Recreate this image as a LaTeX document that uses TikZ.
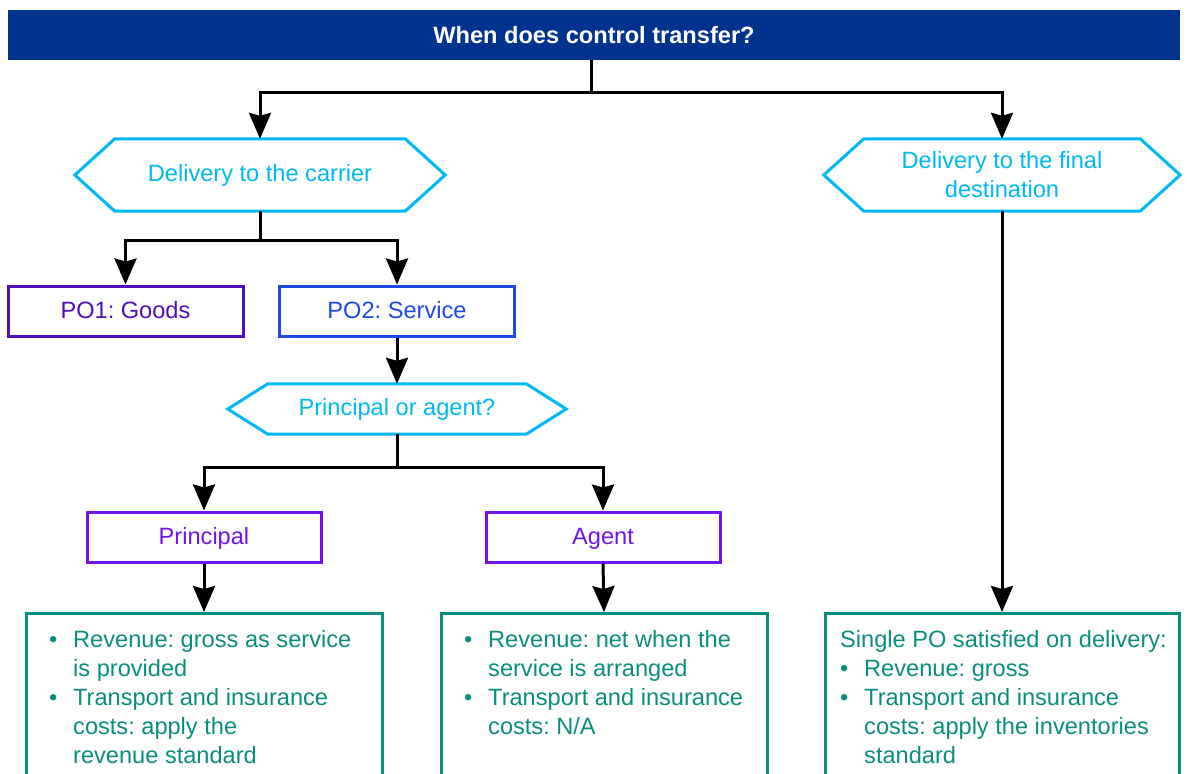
\documentclass[tikz,border=0pt]{standalone}
\usepackage{fontspec}
\setmainfont{Liberation Sans}
\usetikzlibrary{positioning,arrows.meta,calc}
\definecolor{kpmgblue}{HTML}{00338D}
\definecolor{pacific}{HTML}{00B8F5}
\definecolor{darkpurple}{HTML}{510DBC}
\definecolor{cobalt}{HTML}{1E49E2}
\definecolor{kpmgpurple}{HTML}{7213EA}
\definecolor{kpmgteal}{HTML}{098E7E}

% hexagon outline round a named node
\newcommand\hexframe[1]{%
  \draw[pacific, line width=3pt] ([xshift=40pt]#1.north west) -- ([xshift=-40pt]#1.north east)
    -- (#1.east) -- ([xshift=-40pt]#1.south east) -- ([xshift=40pt]#1.south west) -- (#1.west) -- cycle;}

\begin{document}
\frenchspacing
\begin{tikzpicture}[x=1pt, y=-1pt,
  box/.style={draw, line width=3pt, inner sep=0pt, minimum width=235pt, minimum height=50pt, text height=19.6pt, text depth=5pt, align=center, font=\fontsize{23.6}{29}\selectfont},
  hexa/.style={inner sep=0pt, minimum height=72pt, align=center, text=pacific, font=\fontsize{23.6}{29}\selectfont},
  result/.style={draw=kpmgteal, line width=3pt, inner sep=0pt, minimum height=200pt, anchor=north},
  restext/.style={anchor=north west, inner sep=0pt, text=kpmgteal, font=\fontsize{23.6}{29}\selectfont},
  arrow/.style={-{Stealth[length=26pt, width=22pt, inset=3pt]}, line width=3pt},
]
\useasboundingbox (0,0) rectangle (1187,774);
\clip (0,0) rectangle (1187,774);

% Title bar
\node[fill=kpmgblue, text=white, inner sep=0pt, minimum width=1172pt, minimum height=50pt, font=\bfseries\fontsize{23.6}{29}\selectfont] (title) at (594,35) {When does control transfer?};

% Delivery options
\node[hexa, minimum width=370pt] (carrier) at (260,175) {Delivery to the carrier};
\hexframe{carrier}
\node[hexa, minimum width=356pt] (final) at (1002,175) {Delivery to the final\\destination};
\hexframe{final}

% Performance obligations
\node[box, draw=darkpurple, text=darkpurple] (po1) at (125.5,311) {PO1: Goods};
\node[box, draw=cobalt, text=cobalt] (po2) at (397,311) {PO2: Service};

% Principal or agent
\node[hexa, minimum width=338pt, minimum height=50pt] (pora) at (397,409) {Principal or agent?};
\hexframe{pora}
\node[box, draw=kpmgpurple, text=kpmgpurple, minimum width=234pt] (principal) at (204,537) {Principal};
\node[box, draw=kpmgpurple, text=kpmgpurple, minimum width=234pt] (agent) at (603,537) {Agent};

% Outcome boxes
\node[result, minimum width=356pt] (resA) at (204,612) {};
\node[result, minimum width=326pt] (resB) at (604,612) {};
\node[result, minimum width=354pt] (resC) at (1002,612) {};

\node[restext] (resAtxt) at (49,626.7) {\begin{tabular}{@{}p{24pt}@{}l@{}}
  \textbullet & Revenue: gross as service\\ & is provided\\
  \textbullet & Transport and insurance\\ & costs: apply the\\ & revenue standard
\end{tabular}};
\node[restext] (resBtxt) at (464,626.7) {\begin{tabular}{@{}p{24pt}@{}l@{}}
  \textbullet & Revenue: net when the\\ & service is arranged\\
  \textbullet & Transport and insurance\\ & costs: N/A
\end{tabular}};
\node[restext] (resCtxt) at (840,626.7) {\begin{tabular}{@{}p{24pt}@{}l@{}}
  \multicolumn{2}{@{}l@{}}{Single PO satisfied on delivery:}\\
  \textbullet & Revenue: gross\\
  \textbullet & Transport and insurance\\ & costs: apply the inventories\\ & standard
\end{tabular}};

% Arrows
\draw[arrow] ([xshift=-3pt]title.south) -- ++(0,32) -| (carrier.north);
\draw[arrow] ([xshift=-3pt]title.south) -- ++(0,32) -| (final.north);
\draw[arrow] (carrier.south) -- ++(0,29) -| (po1.north);
\draw[arrow] (carrier.south) -- ++(0,29) -| (po2.north);
\draw[arrow] (po2) -- (pora);
\draw[arrow] (pora.south) -- ++(0,33) -| (principal.north);
\draw[arrow] (pora.south) -- ++(0,33) -| (agent.north);
\draw[arrow] (principal) -- (resA);
\draw[arrow] (agent.south) -- (resB.north);
\draw[arrow] (final.south) -- (resC.north);

\end{tikzpicture}
\end{document}
